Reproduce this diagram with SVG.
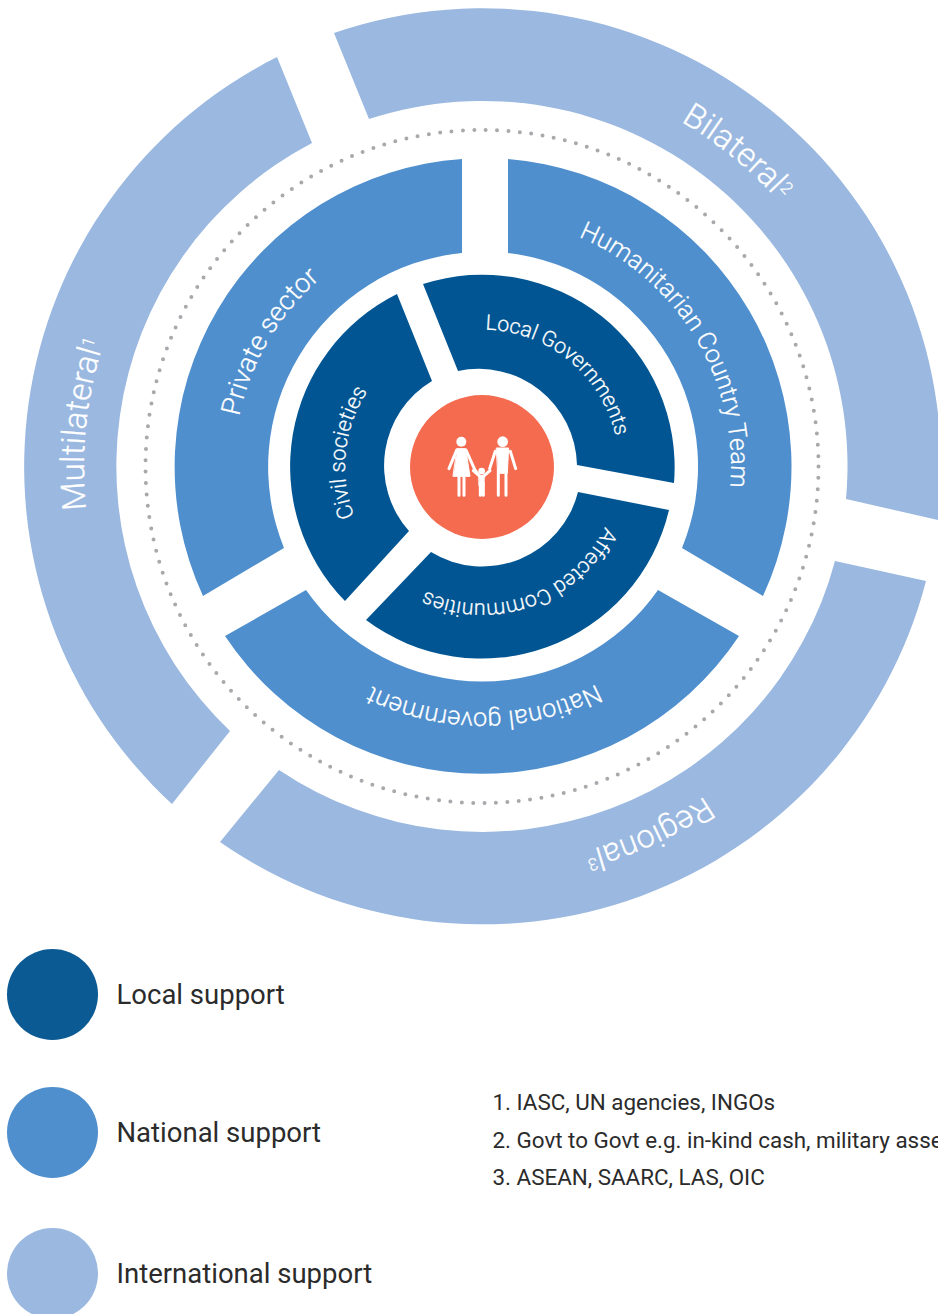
<svg xmlns="http://www.w3.org/2000/svg" width="938" height="1314" viewBox="0 0 938 1314">
<style>
.local{fill:#005592}.nat{fill:#4f8fcd}.intl{fill:#9ab8e0}
text{font-family:Roboto,"Liberation Sans",sans-serif}
.arc{fill:#fff;stroke:#fff;stroke-width:.25px;text-anchor:middle;font-weight:300}
.leg{font-size:27.5px;fill:#2b2b2b}
.fn{font-size:22.4px;fill:#2b2b2b}
.sup{font-size:17px}
</style>
<defs>
<path id="r398" d="M84 466.5A398 398 0 0 1 880 466.5"/>
<path id="r246" d="M236 466.5A246 246 0 0 1 728 466.5"/>
<path id="r248" d="M234 466.5A248 248 0 0 1 730 466.5"/>
<path id="r249" d="M233 466.5A249 249 0 0 1 731 466.5"/>
<path id="r137" d="M345 466.5A137 137 0 0 1 619 466.5"/>
</defs>
<rect width="938" height="1314" fill="#fff"/>
<g id="connectors"/>
<circle id="dots" cx="482" cy="466.5" r="336.5" fill="none" stroke="#a7a9ac" stroke-width="4" stroke-linecap="round" stroke-dasharray="0 11.43"/>
<g id="multilateral">
<path class="intl" d="M277 57A458.5 458.5 0 0 0 172 804L230 731A365 365 0 0 1 312 143Z"/>
<text class="arc" font-size="33" transform="rotate(276 482 466.5)"><textPath href="#r398" startOffset="50%">Multilateral<tspan class="sup" dy="-9">1</tspan></textPath></text>
</g>
<g id="bilateral">
<path class="intl" d="M334 33A458.5 458.5 0 0 1 938 520L846 499A365 365 0 0 0 369 119Z"/>
<text class="arc" font-size="33.5" transform="rotate(39.1 482 466.5)"><textPath href="#r398" startOffset="50%">Bilateral<tspan class="sup" dy="-9">2</tspan></textPath></text>
</g>
<g id="regional">
<path class="intl" d="M926 581A458.5 458.5 0 0 1 220 842L279 770A365 365 0 0 0 835 561Z"/>
<text class="arc" font-size="32.5" transform="rotate(155.5 482 466.5)"><textPath href="#r398" startOffset="50%">Regional<tspan class="sup" dy="-9">3</tspan></textPath></text>
</g>
<g id="private-sector">
<path class="nat" d="M462 159A308.5 308.5 0 0 0 203 596L284 548A215 215 0 0 1 462 253Z"/>
<text class="arc" font-size="27" transform="rotate(300.4 482 466.5)"><textPath href="#r248" startOffset="50%">Private sector</textPath></text>
</g>
<g id="humanitarian-country-team">
<path class="nat" d="M508 159A308.5 308.5 0 0 1 763 596L682 548A215 215 0 0 0 508 253Z"/>
<text class="arc" font-size="25.3" transform="rotate(58.8 482 466.5)"><textPath href="#r249" startOffset="50%">Humanitarian Country Team</textPath></text>
</g>
<g id="national-government">
<path class="nat" d="M739 636A308.5 308.5 0 0 1 225 636L306 590A215 215 0 0 0 658 590Z"/>
<text class="arc" font-size="25.5" transform="rotate(179.5 482 466.5)"><textPath href="#r246" startOffset="50%">National government</textPath></text>
</g>
<g id="civil-societies">
<path class="local" d="M397 294A192.5 192.5 0 0 0 345 601L409 531A98.5 98.5 0 0 1 432 381Z"/>
<text class="arc" font-size="22" transform="rotate(276 482 466.5)"><textPath href="#r137" startOffset="50%">Civil societies</textPath></text>
</g>
<g id="local-governments">
<path class="local" d="M423 284A192.5 192.5 0 0 1 674 483L577 465A98.5 98.5 0 0 0 458 371Z"/>
<text class="arc" font-size="21.3" transform="rotate(39.3 482 466.5)"><textPath href="#r137" startOffset="50%">Local Governments</textPath></text>
</g>
<g id="affected-communities">
<path class="local" d="M669 510A192.5 192.5 0 0 1 366 620L431 552A98.5 98.5 0 0 0 578 492Z"/>
<text class="arc" font-size="21.5" transform="rotate(160.3 482 466.5)"><textPath href="#r137" startOffset="50%">Affected Communities</textPath></text>
</g>
<g id="family">
<circle cx="482" cy="467" r="72" fill="#f46b50"/>
<g transform="translate(400 390) scale(.3333)" fill="#fff" stroke="#fff" stroke-linecap="round" stroke-linejoin="round">
<circle cx="184" cy="155" r="15" stroke="none"/>
<circle cx="308" cy="155" r="16" stroke="none"/>
<circle cx="245" cy="243" r="10" stroke="none"/>
<path stroke-width="3" d="M172 176H197L210 259H160Z"/>
<path fill="none" stroke-width="9" d="M170 180L147 236M198 180L224 238L238 258M177 255V316M192 255V316M286 184L269 236M331 184L347 236M295 240V316M318 240V316M220 242L238 258M270 242L252 258M241 280V316M250 280V316"/>
<path stroke-width="3" d="M290 174H326L322 250H294Z"/>
<path stroke-width="3" d="M237 256H253L252 288H238Z"/>
</g>
</g>
<g id="legend-local"><circle cx="52.5" cy="994.5" r="45.5" fill="#0b5a94"/><text class="leg" x="116.5" y="1004">Local support</text></g>
<g id="legend-national"><circle cx="52.5" cy="1132.5" r="45.5" class="nat"/><text class="leg" x="116.5" y="1142">National support</text></g>
<g id="legend-international"><circle cx="52.5" cy="1273.5" r="45.5" class="intl"/><text class="leg" x="116.5" y="1283">International support</text></g>
<g id="footnotes">
<text class="fn" x="492.5" y="1110">1. IASC, UN agencies, INGOs</text>
<text class="fn" x="492.5" y="1148">2. Govt to Govt e.g. in-kind cash, military asse</text>
<text class="fn" x="492.5" y="1185">3. ASEAN, SAARC, LAS, OIC</text>
</g>
</svg>
